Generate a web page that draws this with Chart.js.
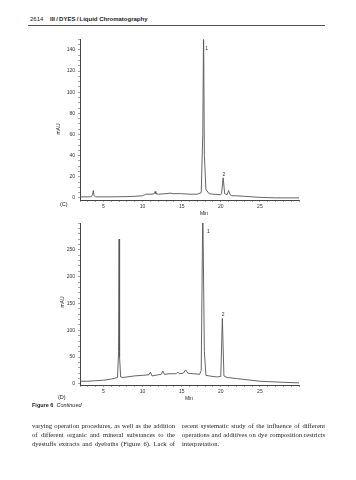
<!DOCTYPE html>
<html>
<head>
<meta charset="utf-8">
<script src="https://cdn.jsdelivr.net/npm/chart.js@4.4.0/dist/chart.umd.min.js"></script>
<style>
  body { margin: 0; background: #fff; width: 356px; height: 480px; position: relative; overflow: hidden; font-family: "Liberation Sans", Arial, sans-serif; color: #222; }
  .abs { position: absolute; white-space: nowrap; }
  .box { position: absolute; }
  .txt { position: absolute; font-family: "Liberation Serif", "DejaVu Serif", serif; font-size: 6.6px; line-height: 9px; color: #222; }
  .txt div { text-align: justify; text-align-last: justify; white-space: nowrap; }
  .txt div.last { text-align-last: left; }
</style>
</head>
<body>

<div class="abs" style="left:30px;top:16px;font-size:6px;">2614&nbsp;&nbsp;&nbsp;&nbsp;<b>III&thinsp;/&thinsp;DYES&thinsp;/&thinsp;Liquid Chromatography</b></div>
<div class="abs" style="left:28px;top:25px;width:297px;height:1.4px;background:#555;"></div>

<div class="box" style="left:30px;top:30px;width:280px;height:185px;"><canvas id="chartC"></canvas></div>
<div class="abs" style="left:52px;top:126px;font-size:5px;transform:rotate(-90deg);">mAU</div>
<div class="abs" style="left:60px;top:201px;font-size:5.5px;">(C)</div>
<div class="abs" style="left:200px;top:210px;font-size:5px;">Min</div>

<div class="box" style="left:30px;top:215px;width:280px;height:185px;"><canvas id="chartD"></canvas></div>
<div class="abs" style="left:56px;top:299px;font-size:5px;transform:rotate(-90deg);">mAU</div>
<div class="abs" style="left:58px;top:394px;font-size:5.5px;">(D)</div>
<div class="abs" style="left:185px;top:395px;font-size:5px;">Min</div>

<div class="abs" style="left:32px;top:402px;font-size:5.5px;"><b>Figure 6</b>&nbsp;&nbsp;<i>Continued</i></div>

<div class="txt" style="left:32px;top:421px;width:143px;">
  <div>varying operation procedures, as well as the addition</div>
  <div>of different organic and mineral substances to the</div>
  <div>dyestuffs extracts and dyebaths (Figure 6). Lack of</div>
</div>
<div class="txt" style="left:182px;top:421px;width:143px;">
  <div>recent systematic study of the influence of different</div>
  <div>operations and additives on dye composition restricts</div>
  <div class="last">interpretation.</div>
</div>

<script>
// chromatogram (C)
const timesC = [2, 3.4, 3.6, 3.7, 3.8, 4.0, 6, 8, 9, 10, 10.4, 11.2, 11.5, 11.6, 11.7, 12, 13, 13.5, 14, 15, 16, 17, 17.5, 17.7, 17.8, 17.9, 18.1, 18.5, 19, 20, 20.1, 20.3, 20.5, 20.8, 21.0, 21.2, 21.4, 22, 23, 24, 25, 27, 30];
const valuesC = [1, 1, 3, 7, 2, 1, 1, 1.2, 1.5, 2, 3.5, 3.5, 4, 6, 4, 3.5, 4, 4.5, 4, 4, 3.5, 3.5, 5, 60, 160, 40, 8, 4, 3.5, 3, 4, 19, 4, 3, 7, 3, 2, 2, 1.5, 1, 0.5, 0, 0];
const yTicksC = [0, 20, 40, 60, 80, 100, 120, 140];

// chromatogram (D)
const timesD = [2, 3, 4, 5, 6, 6.8, 6.93, 7.0, 7.06, 7.2, 7.5, 8, 9, 10, 10.8, 11.0, 11.2, 12, 12.4, 12.6, 12.8, 13.5, 14.3, 14.5, 14.7, 15.2, 15.5, 15.8, 16.5, 17.3, 17.5, 17.7, 17.9, 18.1, 18.5, 19.5, 20.0, 20.2, 20.4, 20.8, 22, 25, 28, 30];
const valuesD = [5, 5, 6, 7, 9, 12, 60, 270, 50, 13, 12, 13, 15, 16, 17, 22, 15, 17, 18, 24, 18, 19, 19, 22, 19, 20, 26, 20, 19, 18, 25, 330, 60, 16, 15, 13, 14, 122, 15, 12, 10, 5, 3, 2];
const yTicksD = [0, 50, 100, 150, 200, 250];

const xTicks = [5, 10, 15, 20, 25];

// peak numbers
const peakNames = ['1', '2'];
const peakTimesC = [18.2, 20.4];
const peakLevelsC = [140, 21];
const peakTimesD = [18.4, 20.3];
const peakLevelsD = [282, 127];

const peakLabels = {
  id: 'peakLabels',
  afterDatasetsDraw(chart, args, opts) {
    const { ctx, scales: { x, y } } = chart;
    ctx.save();
    ctx.font = '5px "Liberation Sans"';
    ctx.fillStyle = '#333';
    ctx.textAlign = 'center';
    opts.names.forEach((n, i) => {
      ctx.fillText(n, x.getPixelForValue(opts.times[i]), y.getPixelForValue(opts.levels[i]));
    });
    ctx.restore();
  }
};

function range(a, b, s) {
  const out = [];
  for (let v = a; v <= b + 1e-9; v += s) out.push(v);
  return out;
}

function makeChart(id, times, values, yMax, yMinor, yLabels, padTop, pTimes, pLevels) {
  const ctx = document.getElementById(id).getContext('2d');
  return new Chart(ctx, {
    type: 'line',
    data: {
      datasets: [{
        data: times.map((t, i) => ({ x: t, y: values[i] })),
        borderColor: '#555',
        borderWidth: 0.9,
        borderJoinStyle: 'round',
        pointRadius: 0,
        tension: 0,
        fill: false
      }]
    },
    options: {
      responsive: true,
      maintainAspectRatio: false,
      animation: false,
      events: [],
      layout: { padding: { top: padTop, right: 11, left: 0, bottom: 0 } },
      plugins: {
        legend: { display: false },
        tooltip: { enabled: false },
        peakLabels: { names: peakNames, times: pTimes, levels: pLevels }
      },
      scales: {
        x: {
          type: 'linear',
          min: 2,
          max: 30,
          afterBuildTicks: s => { s.ticks = range(2, 30, 1).map(v => ({ value: v })); },
          afterFit: s => { s.height = 15; },
          ticks: {
            autoSkip: false,
            maxRotation: 0,
            padding: 2,
            color: '#333',
            font: { size: 5, family: 'Liberation Sans' },
            callback: v => xTicks.includes(v) ? String(v) : ''
          },
          grid: { drawOnChartArea: false, tickLength: 2, color: '#666', lineWidth: 0.6 },
          border: { color: '#444', width: 1 }
        },
        y: {
          min: -2,
          max: yMax,
          afterBuildTicks: s => { s.ticks = range(0, yMax, yMinor).map(v => ({ value: v })); },
          afterFit: s => { s.width = 50; },
          ticks: {
            autoSkip: false,
            padding: 3,
            color: '#333',
            font: { size: 5, family: 'Liberation Sans' },
            callback: v => yLabels.includes(v) ? String(v) : ''
          },
          grid: { drawOnChartArea: false, tickLength: 2, color: '#666', lineWidth: 0.6 },
          border: { color: '#444', width: 1 }
        }
      }
    },
    plugins: [peakLabels]
  });
}

makeChart('chartC', timesC, valuesC, 150, 5, yTicksC, 9.4, peakTimesC, peakLevelsC);
makeChart('chartD', timesD, valuesD, 300, 10, yTicksD, 8, peakTimesD, peakLevelsD);
</script>
</body>
</html>
